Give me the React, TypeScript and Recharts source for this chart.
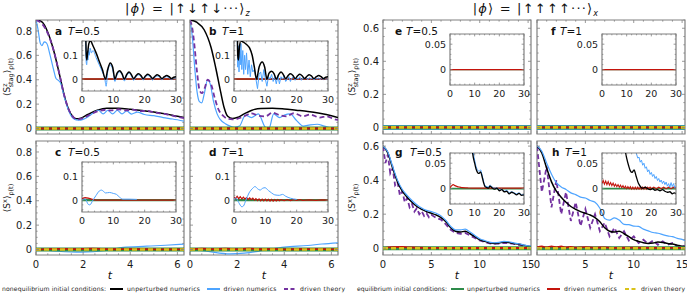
import React from 'react';
import { LineChart, Line, XAxis, YAxis, ReferenceArea } from 'recharts';

type Pt = [number, number];

const FONT = "'DejaVu Sans', 'Liberation Sans', sans-serif";
const C_BLACK = '#000000';
const C_BLUE = '#4ea4ff';
const C_PURPLE = '#7432a0';
const C_GREEN = '#2e8b4a';
const C_RED = '#c4140c';
const C_YELLOW = '#d9c21a';
const FRAME = '#808080';
const TXT = '#1a1a1a';

// ---- tick labels ----
const tLeftMajor = [0, 2, 4, 6];
const tRightMajor = [0, 5, 10, 15];
const tInsetMajor = [0, 10, 20, 30];
const yLeftMajor = [0, 0.2, 0.4, 0.6, 0.8];
const yRightMajor = [0, 0.2, 0.4, 0.6];
const yInsetLeftMajor = [0, 0.1];
const yInsetRightMajor = [0, 0.05];

// ---- zero reference series ----
const zeroL: Pt[] = [[0, 0], [6.28, 0]];
const zeroR: Pt[] = [[0, 0], [15.3, 0]];
const zeroI: Pt[] = [[0, 0], [30, 0]];

// ---- panel a (T=0.5, staggered magnetisation) ----
const aBlack: Pt[] = [[0,0.89],[0.25,0.875],[0.5,0.79],[0.75,0.64],[1.0,0.44],[1.2,0.27],[1.4,0.15],[1.55,0.1],[1.7,0.08],[1.9,0.085],[2.2,0.115],[2.6,0.15],[3.0,0.167],[3.5,0.166],[4.0,0.158],[4.5,0.148],[5.0,0.135],[5.5,0.12],[6.0,0.1],[6.28,0.09]];
const aBlue: Pt[] = [[0,0.89],[0.08,0.82],[0.18,0.7],[0.25,0.68],[0.35,0.71],[0.45,0.7],[0.6,0.6],[0.75,0.48],[0.85,0.41],[0.95,0.395],[1.05,0.37],[1.2,0.26],[1.4,0.14],[1.6,0.08],[1.8,0.068],[2.0,0.075],[2.2,0.095],[2.45,0.13],[2.65,0.15],[2.85,0.12],[3.05,0.15],[3.25,0.12],[3.45,0.15],[3.65,0.12],[3.85,0.145],[4.05,0.118],[4.3,0.135],[4.6,0.115],[5.0,0.105],[5.4,0.09],[5.8,0.078],[6.28,0.06]];
const aPurple: Pt[] = [[0,0.89],[0.25,0.86],[0.5,0.78],[0.75,0.64],[1.0,0.44],[1.2,0.27],[1.4,0.15],[1.6,0.09],[1.75,0.075],[2.0,0.085],[2.3,0.115],[2.6,0.14],[2.9,0.152],[3.2,0.148],[3.5,0.158],[3.8,0.148],[4.1,0.155],[4.4,0.142],[4.7,0.145],[5.0,0.132],[5.4,0.122],[5.8,0.105],[6.28,0.085]];

// ---- panel b (T=1) ----
const bBlack: Pt[] = [[0,0.89],[0.3,0.87],[0.6,0.81],[0.9,0.66],[1.1,0.49],[1.3,0.3],[1.45,0.17],[1.6,0.1],[1.8,0.082],[2.0,0.09],[2.3,0.12],[2.6,0.148],[3.0,0.165],[3.5,0.166],[4.0,0.16],[4.5,0.15],[5.0,0.14],[5.5,0.125],[6.0,0.105],[6.28,0.09]];
const bBlue: Pt[] = [[0,0.89],[0.1,0.75],[0.2,0.5],[0.3,0.3],[0.4,0.22],[0.5,0.21],[0.6,0.28],[0.75,0.4],[0.85,0.37],[1.0,0.22],[1.15,0.12],[1.3,0.07],[1.5,0.04],[1.7,0.02],[1.9,0.01],[2.1,0.02],[2.35,0.11],[2.6,0.09],[2.9,0.12],[3.2,0.01],[3.35,0.0],[3.55,0.12],[3.8,0.09],[4.0,0.11],[4.25,0.12],[4.5,0.07],[4.8,0.02],[5.1,0.03],[5.4,0.035],[5.7,0.02],[6.0,0.005],[6.28,-0.005]];
const bPurple: Pt[] = [[0,0.89],[0.1,0.82],[0.2,0.66],[0.3,0.46],[0.4,0.32],[0.5,0.29],[0.62,0.33],[0.75,0.4],[0.9,0.36],[1.05,0.25],[1.2,0.16],[1.4,0.105],[1.6,0.08],[1.8,0.075],[2.0,0.08],[2.3,0.1],[2.6,0.125],[2.9,0.105],[3.2,0.1],[3.5,0.13],[3.8,0.11],[4.1,0.1],[4.4,0.125],[4.8,0.1],[5.1,0.115],[5.5,0.09],[5.8,0.1],[6.1,0.078],[6.28,0.07]];

// ---- panels c, d (S^x, Neel state) ----
const cBlue: Pt[] = [[0,0],[0.9,-0.014],[1.9,-0.022],[3.0,-0.008],[3.7,0.018],[4.7,0.027],[5.5,0.035],[6.28,0.044]];
const cRed: Pt[] = [[0,0],[0.8,0.006],[1.6,0.004],[2.4,0.007],[3.2,0.002],[4,0.003],[5,0.001],[6.28,0.001]];
const dBlue: Pt[] = [[0,0],[0.7,-0.014],[1.7,-0.035],[2.3,-0.03],[3.1,-0.008],[4.0,0.02],[5.0,0.033],[5.6,0.045],[6.28,0.055]];
const dRed: Pt[] = [[0,0],[0.5,0.007],[1.0,0.002],[1.5,0.008],[2.0,0.003],[2.5,0.008],[3.0,0.002],[3.5,0.005],[4.0,0.001],[5.0,0.003],[6.28,0.001]];

// ---- panels g, h (S^x, x-polarised state) ----
const xBlack: Pt[] = [[0,0.6],[0.5,0.56],[1,0.47],[1.5,0.39],[2,0.335],[2.5,0.3],[3,0.27],[3.5,0.245],[4,0.228],[4.5,0.215],[5,0.205],[5.5,0.195],[6,0.18],[6.5,0.155],[7,0.12],[7.5,0.1],[8,0.095],[8.5,0.1],[9,0.085],[9.5,0.068],[10,0.05],[10.5,0.04],[11,0.032],[11.5,0.028],[12,0.03],[12.5,0.036],[13,0.034],[13.5,0.028],[14,0.024],[14.5,0.018],[15,0.012],[15.3,0.01]];
const gBlue: Pt[] = [[0,0.6],[0.5,0.565],[1,0.48],[1.5,0.4],[2,0.345],[2.5,0.31],[3,0.28],[3.5,0.255],[4,0.236],[4.5,0.222],[5,0.215],[5.5,0.205],[6,0.19],[6.5,0.163],[7,0.128],[7.5,0.108],[8,0.108],[8.5,0.112],[9,0.095],[9.5,0.075],[10,0.056],[10.5,0.045],[11,0.036],[11.5,0.032],[12,0.034],[12.5,0.04],[13,0.038],[13.5,0.031],[14,0.026],[14.5,0.02],[15,0.014],[15.3,0.012]];
const gPurple: Pt[] = [[0,0.6],[0.25,0.5],[0.5,0.55],[0.75,0.44],[1,0.47],[1.25,0.37],[1.5,0.39],[1.75,0.31],[2,0.335],[2.25,0.27],[2.5,0.295],[2.75,0.24],[3,0.26],[3.25,0.215],[3.5,0.235],[3.75,0.2],[4,0.218],[4.25,0.19],[4.5,0.205],[4.75,0.182],[5,0.196],[5.5,0.178],[6,0.168],[6.5,0.14],[7,0.108],[7.5,0.09],[8,0.085],[8.5,0.09],[9,0.075],[9.5,0.06],[10,0.045],[10.5,0.036],[11,0.028],[11.5,0.025],[12,0.027],[12.5,0.032],[13,0.03],[13.5,0.025],[14,0.02],[14.5,0.015],[15,0.01],[15.3,0.008]];
const gRed: Pt[] = [[0,0],[1,0.006],[2,0.007],[3,0.004],[5,0.002],[8,0.001],[15.3,0.001]];
const hBlue: Pt[] = [[0,0.6],[0.5,0.57],[1,0.5],[1.5,0.435],[2,0.385],[2.5,0.36],[3,0.345],[3.5,0.325],[4,0.315],[4.5,0.3],[5,0.295],[5.5,0.28],[6,0.27],[6.5,0.235],[7,0.175],[7.5,0.165],[8,0.178],[8.5,0.165],[9,0.14],[9.5,0.138],[10,0.13],[10.5,0.128],[11,0.112],[11.5,0.102],[12,0.092],[12.5,0.088],[13,0.08],[13.5,0.072],[14,0.068],[14.5,0.058],[15,0.052],[15.3,0.046]];
const hPurple: Pt[] = [[0,0.6],[0.5,0.33],[1.0,0.48],[1.5,0.24],[2.0,0.4],[2.5,0.2],[3.0,0.33],[3.5,0.16],[4.0,0.27],[4.5,0.13],[5.0,0.23],[5.5,0.12],[6.0,0.2],[6.5,0.1],[7.0,0.15],[7.5,0.07],[8.0,0.12],[8.5,0.06],[9.0,0.1],[9.5,0.045],[10.0,0.07],[10.5,0.03],[11.0,0.05],[11.5,0.025],[12.0,0.045],[12.5,0.02],[13.0,0.04],[13.5,0.02],[14.0,0.03],[14.5,0.01],[15.0,0.015],[15.3,0.01]];
const hRed: Pt[] = [[0,0.005],[0.5,0.01],[1,0.004],[1.5,0.011],[2,0.005],[2.5,0.01],[3,0.004],[3.5,0.008],[4,0.003],[5,0.006],[6,0.003],[7,0.005],[8,0.002],[10,0.003],[12,0.002],[15.3,0.002]];

// ---- insets ----
const aInBlack: Pt[] = [[0,0.89],[0.5,0.75],[1.0,0.35],[1.3,0.12],[1.5,0.08],[1.8,0.11],[2.2,0.15],[2.7,0.16],[3.5,0.14],[4.5,0.11],[5.5,0.075],[6.5,0.04],[7.5,0.0],[8.2,0.04],[9.0,0.068],[9.8,0.05],[10.5,0.0],[11.2,0.025],[12.0,0.035],[12.8,0.022],[13.5,0.0],[14.3,0.02],[15.0,0.03],[15.7,0.02],[16.5,0.002],[17.3,0.015],[18,0.022],[18.8,0.015],[19.5,0.002],[20.3,0.014],[21,0.02],[21.8,0.013],[22.5,0.002],[23.3,0.012],[24,0.018],[24.8,0.012],[25.5,0.002],[26.3,0.01],[27,0.015],[27.8,0.01],[28.5,0.002],[29.3,0.008],[30,0.01]];
const aInBlue: Pt[] = [[0,0.89],[0.5,0.7],[1.0,0.3],[1.3,0.08],[1.5,0.06],[1.7,0.1],[1.9,0.08],[2.1,0.12],[2.3,0.1],[2.6,0.13],[3.0,0.11],[3.5,0.12],[4.5,0.09],[5.5,0.06],[6.5,0.03],[7.3,0.0],[7.7,-0.03],[8.2,0.03],[9.0,0.06],[9.8,0.04],[10.5,-0.01],[11.2,0.018],[12,0.03],[12.8,0.018],[13.5,-0.008],[14.3,0.015],[15,0.025],[15.7,0.015],[16.5,-0.005],[17.3,0.01],[18,0.018],[18.8,0.01],[19.5,-0.004],[20.3,0.01],[21,0.015],[21.8,0.008],[22.5,-0.004],[23.3,0.008],[24,0.013],[24.8,0.008],[25.5,-0.003],[26.3,0.006],[27,0.01],[27.8,0.006],[28.5,-0.002],[29.3,0.004],[30,0.005]];
const bInBlack: Pt[] = [[0,0.89],[0.6,0.7],[1.0,0.3],[1.2,0.1],[1.4,0.08],[1.7,0.13],[2.2,0.16],[3,0.155],[4,0.145],[5,0.13],[5.8,0.1],[6.5,0.05],[7.2,0.0],[8.0,0.05],[9.0,0.072],[9.8,0.05],[10.5,0.0],[11.2,0.025],[12,0.033],[12.8,0.022],[13.5,0.0],[14.3,0.02],[15.0,0.03],[15.7,0.02],[16.5,0.002],[17.3,0.015],[18,0.022],[18.8,0.015],[19.5,0.002],[20.3,0.014],[21,0.02],[21.8,0.013],[22.5,0.002],[23.3,0.012],[24,0.018],[24.8,0.012],[25.5,0.002],[26.3,0.01],[27,0.015],[27.8,0.01],[28.5,0.002],[29.3,0.008],[30,0.01]];
const bInBlue: Pt[] = [[0,0.89],[0.6,0.6],[1.0,0.2],[1.2,0.05],[1.4,0.14],[1.6,0.03],[1.8,0.12],[2.0,0.06],[2.2,0.15],[2.5,0.04],[2.8,0.12],[3.1,0.02],[3.4,0.1],[3.7,0.04],[4.0,0.11],[4.4,0.02],[4.8,0.08],[5.2,0.01],[5.6,0.06],[6.0,0.03],[6.5,0.04],[7.0,0.0],[7.5,-0.04],[8.0,0.02],[8.5,0.03],[9.0,-0.01],[9.5,0.04],[10.0,0.0],[10.5,-0.03],[11,0.01],[11.5,0.0],[12,0.02],[12.5,-0.01],[13,0.01],[13.5,-0.02],[14,0.015],[14.5,-0.02],[15,0.01],[15.5,0.0],[16,0.015],[16.5,-0.01],[17,0.0],[17.5,0.01],[18,-0.01],[18.5,0.005],[19,0.01],[19.5,-0.005],[20,0.005],[20.5,0.0],[21,0.01],[21.5,-0.005],[22,0.005],[22.5,0.0],[23,0.008],[23.5,-0.003],[24,0.006],[24.5,0.0],[25,0.006],[25.5,-0.004],[26,0.004],[26.5,0.0],[27,0.005],[27.5,-0.003],[28,0.004],[28.5,-0.002],[29,0.003],[29.5,-0.002],[30,0.002]];
const cInBlue: Pt[] = [[0,0],[1,0.005],[2,-0.018],[2.5,-0.02],[3.5,0.0],[4.5,0.02],[5.5,0.038],[6.2,0.042],[7,0.035],[7.5,0.03],[8.8,0.032],[10,0.028],[11,0.024],[12,0.012],[13,0.004],[15,0.004],[17.5,0.003]];
const cInRed: Pt[] = [[0,0.006],[1,0.01],[2,0.008],[3,0.004],[4,0.001],[5,0.0],[30,0]];
const dInBlue: Pt[] = [[0,0],[0.6,0.01],[1.5,-0.01],[2.5,-0.028],[3.0,-0.025],[3.8,0.0],[4.8,0.03],[6.0,0.05],[6.7,0.057],[7.5,0.048],[8.3,0.042],[9.2,0.05],[9.9,0.052],[11,0.04],[12,0.03],[13,0.022],[14.5,0.02],[15.5,0.024],[16.5,0.016],[18,0.008],[20,0.003]];
const dInRed: Pt[] = [[0,0.012],[0.5,0.006],[1,0.016],[1.5,0.006],[2,0.014],[2.5,0.005],[3,0.012],[3.5,0.004],[4,0.01],[4.5,0.003],[5,0.009],[5.5,0.002],[6,0.008],[6.5,0.0],[7,0.006],[7.5,-0.002],[8,0.005],[8.5,-0.003],[9,0.004],[9.5,-0.003],[10,0.004],[10.5,-0.003],[11,0.003],[11.5,-0.004],[12,0.003],[12.5,-0.004],[13,0.002],[13.5,-0.004],[14,0.002],[14.5,-0.003],[15,0.002],[16,-0.002],[17,0.002],[18,-0.002],[19,0.002],[20,-0.001],[21,0.002],[22,-0.001],[24,0.001],[26,-0.001],[28,0.001],[30,0]];
const gInBlack: Pt[] = [[0,0.6],[3,0.27],[6,0.18],[7,0.12],[8,0.095],[8.5,0.09],[9,0.075],[9.5,0.06],[10,0.05],[10.6,0.038],[11.3,0.031],[11.8,0.03],[12.4,0.033],[13,0.024],[13.6,0.012],[14.2,0.004],[15,0.002],[15.6,0.001],[16.2,0.005],[17,0.002],[18,-0.001],[19,0.001],[20,-0.004],[21,-0.002],[22,-0.006],[23,-0.005],[24,-0.01],[25,-0.007],[26,-0.009],[27,-0.012],[28,-0.009],[29,-0.013],[30,-0.012]];
const gInBlue: Pt[] = [[0,0.6],[3,0.28],[6,0.19],[7,0.128],[8,0.108],[8.5,0.1],[9,0.085],[9.5,0.068],[10,0.056],[10.6,0.043],[11.3,0.036],[11.8,0.034],[12.4,0.037],[13,0.027],[13.6,0.015],[14.2,0.006],[15,0.004],[15.6,0.003],[16.2,0.007],[17,0.004],[18,0.001],[19,0.002],[20,-0.002],[21,-0.001],[22,-0.005],[23,-0.003],[24,-0.008],[25,-0.006],[26,-0.008],[27,-0.01],[28,-0.008],[29,-0.012],[30,-0.011]];
const gInRed: Pt[] = [[0,0.002],[0.7,0.006],[1.3,0.008],[2,0.006],[3,0.004],[4,0.003],[5,0.002],[7,0.0015],[10,0.001],[15,0.001],[20,0.001],[30,0.001]];
const hInBlack: Pt[] = [[0,0.6],[3,0.27],[6,0.18],[8,0.095],[9,0.085],[10,0.06],[10.8,0.045],[11.5,0.035],[12.2,0.032],[13,0.037],[13.8,0.025],[14.8,0.01],[15.8,0.003],[16.5,0.001],[17.5,0.003],[18.5,0.0],[19.5,-0.002],[20.5,0.0],[21.5,-0.003],[22.5,-0.002],[23.5,-0.004],[24.5,-0.002],[25.5,-0.005],[26.5,-0.007],[27.5,-0.006],[28.5,-0.01],[29.3,-0.008],[30,-0.01]];
const hInBlue: Pt[] = [[0,0.6],[5,0.29],[8,0.175],[10,0.13],[12,0.09],[13,0.08],[14,0.068],[14.5,0.06],[15,0.062],[15.5,0.052],[16,0.056],[16.5,0.046],[17,0.05],[17.5,0.04],[18,0.043],[18.5,0.033],[19,0.037],[19.5,0.028],[20,0.032],[20.5,0.024],[21,0.028],[21.5,0.02],[22,0.024],[22.5,0.016],[23,0.02],[23.5,0.013],[24,0.017],[24.5,0.01],[25,0.015],[25.5,0.008],[26,0.013],[26.5,0.005],[27,0.01],[27.5,0.003],[28,0.012],[28.5,0.004],[29,0.01],[29.5,0.002],[30,0.005]];
const hInRed: Pt[] = [[0,0.01],[0.5,0.016],[1,0.009],[1.5,0.015],[2,0.008],[2.5,0.014],[3,0.007],[3.5,0.012],[4,0.006],[4.5,0.011],[5,0.005],[5.5,0.009],[6,0.004],[6.5,0.008],[7,0.003],[7.5,0.007],[8,0.002],[8.5,0.006],[9,0.001],[9.5,0.005],[10,0.0],[10.5,0.004],[11,0.0],[11.5,0.004],[12,-0.001],[12.5,0.003],[13,-0.001],[13.5,0.003],[14,-0.001],[14.5,0.003],[15,-0.001],[15.5,0.003],[16,-0.001],[16.5,0.003],[17,-0.001],[17.5,0.003],[18,-0.001],[18.5,0.003],[19,0],[19.5,0.003],[20,0],[21,0.003],[22,0],[23,0.003],[24,0],[25,0.003],[26,0],[27,0.003],[28,0],[29,0.003],[30,0.001]];

// ---- text ----
const panelLetters = ['a', 'b', 'c', 'd', 'e', 'f', 'g', 'h'];
const panelPeriods = ['0.5', '1', '0.5', '1', '0.5', '1', '0.5', '1'];
const legendNoneq = ['unperturbed  numerics', 'driven  numerics', 'driven  theory'];
const legendEq = ['unperturbed  numerics', 'driven  numerics', 'driven  theory'];

type Series = { data: Pt[]; color: string; width: number; dash?: string; curve?: 'linear' | 'monotone' };

const S = (data: Pt[], color: string, width: number, dash?: string, curve?: 'linear' | 'monotone'): Series => ({ data, color, width, dash, curve });

const eqBand = (z: Pt[], red: Pt[] = z): Series[] => [
  S(z, C_GREEN, 4),
  S(red, C_RED, 1.8),
  S(z, C_YELLOW, 2.6, '5 3'),
];

function buildTicks(d: [number, number], step: number): number[] {
  const out: number[] = [];
  const start = Math.ceil(d[0] / step - 1e-9) * step;
  for (let v = start; v <= d[1] + 1e-9; v += step) out.push(Math.round(v * 1e6) / 1e6);
  return out;
}

const fmt = (v: number) => String(Math.round(v * 1e6) / 1e6);

type PanelProps = {
  x: number; y: number; w: number; h: number;
  xd: [number, number]; yd: [number, number];
  xMajor: number[]; xStep: number; yMajor: number[]; yStep: number;
  series: Series[]; fs: number; L: number; B: number; len: number;
  showX?: boolean; showY?: boolean;
};

function Panel(p: PanelProps) {
  const { x, y, w, h, xd, yd, xMajor, xStep, yMajor, yStep, series, fs, L, B, len } = p;
  const showX = p.showX !== false;
  const showY = p.showY !== false;
  const T = 4, R = 8;
  const isMaj = (arr: number[], v: number) => arr.some((m) => Math.abs(m - v) < 1e-6);
  const xTick = (tp: any) => {
    const v = tp.payload.value;
    const maj = isMaj(xMajor, v);
    const l = maj ? len : len * 0.55;
    return (
      <g>
        <line x1={tp.x} x2={tp.x} y1={tp.y} y2={tp.y - l} stroke={FRAME} strokeWidth={0.8} />
        <line x1={tp.x} x2={tp.x} y1={tp.y - h} y2={tp.y - h + l} stroke={FRAME} strokeWidth={0.8} />
        {maj && showX && (
          <text x={tp.x} y={tp.y + fs + 2.5} textAnchor="middle" fontSize={fs} fontFamily={FONT} fill={TXT}>
            {fmt(v)}
          </text>
        )}
      </g>
    );
  };
  const yTick = (tp: any) => {
    const v = tp.payload.value;
    const maj = isMaj(yMajor, v);
    const l = maj ? len : len * 0.55;
    return (
      <g>
        <line x1={tp.x} x2={tp.x + l} y1={tp.y} y2={tp.y} stroke={FRAME} strokeWidth={0.8} />
        <line x1={tp.x + w} x2={tp.x + w - l} y1={tp.y} y2={tp.y} stroke={FRAME} strokeWidth={0.8} />
        {maj && showY && (
          <text x={tp.x - 4} y={tp.y + fs * 0.36} textAnchor="end" fontSize={fs} fontFamily={FONT} fill={TXT}>
            {fmt(v)}
          </text>
        )}
      </g>
    );
  };
  return (
    <div style={{ position: 'absolute', left: x - L, top: y - T }}>
      <LineChart width={w + L + R} height={h + T + B} margin={{ top: T, right: R, bottom: 0, left: 0 }}>
        <XAxis dataKey="t" type="number" domain={xd} allowDataOverflow ticks={buildTicks(xd, xStep)} interval={0}
          tick={xTick} tickLine={false} axisLine={false} tickSize={0} tickMargin={0} height={B} />
        <YAxis type="number" domain={yd} allowDataOverflow ticks={buildTicks(yd, yStep)} interval={0}
          tick={yTick} tickLine={false} axisLine={false} tickSize={0} tickMargin={0} width={L} />
        <ReferenceArea x1={xd[0]} x2={xd[1]} y1={yd[0]} y2={yd[1]} fill="none" fillOpacity={0}
          stroke={FRAME} strokeWidth={1.2} ifOverflow="visible" />
        {series.map((s, i) => (
          <Line key={i} data={s.data.map(([t, v]) => ({ t, v }))} dataKey="v" type={s.curve ?? 'monotone'}
            stroke={s.color} strokeWidth={s.width} strokeDasharray={s.dash} dot={false} activeDot={false}
            isAnimationActive={false} />
        ))}
      </LineChart>
    </div>
  );
}

const LD: [number, number] = [0, 6.28];
const RD: [number, number] = [0, 15.3];
const ID: [number, number] = [0, 30];
const YL: [number, number] = [-0.045, 0.89];
const YR1: [number, number] = [-0.04, 0.65];
const YR2: [number, number] = [-0.04, 0.63];
const YIL: [number, number] = [-0.05, 0.16];
const YIR: [number, number] = [-0.03, 0.07];

const mainL = { w: 148, h: 114, xd: LD, yd: YL, xMajor: tLeftMajor, xStep: 0.5, yMajor: yLeftMajor, yStep: 0.05, fs: 10, L: 32, B: 18, len: 3 };
const mainR1 = { w: 148, h: 114, xd: RD, yd: YR1, xMajor: tRightMajor, xStep: 1, yMajor: yRightMajor, yStep: 0.05, fs: 10, L: 32, B: 18, len: 3 };
const mainR2 = { ...mainR1, yd: YR2 };
const insL = { w: 94, h: 50, xd: ID, yd: YIL, xMajor: tInsetMajor, xStep: 2, yMajor: yInsetLeftMajor, yStep: 0.02, fs: 9.5, L: 28, B: 16, len: 2.4 };
const insR = { w: 74, h: 51, xd: ID, yd: YIR, xMajor: tInsetMajor, xStep: 2, yMajor: yInsetRightMajor, yStep: 0.01, fs: 9.5, L: 34, B: 16, len: 2.4 };

function YLabel({ x, y, kind }: { x: number; y: number; kind: 'z' | 'x' }) {
  return (
    <text transform={`rotate(-90 ${x} ${y})`} x={x} y={y} textAnchor="middle" fontSize={9} fontFamily={FONT} fill={TXT}>
      ⟨S
      {kind === 'z' ? (
        <>
          <tspan fontSize={6.5} dy={-3.5}>z</tspan>
          <tspan fontSize={6.5} dx={-4} dy={6.5}>stag</tspan>
          <tspan dy={-3}>⟩</tspan>
        </>
      ) : (
        <>
          <tspan fontSize={6.5} dy={-3.5}>x</tspan>
          <tspan dy={3.5}>⟩</tspan>
        </>
      )}
      <tspan fontSize={6.5} dy={2.8}>ρ(t)</tspan>
    </text>
  );
}

export default function App() {
  const panelPos = [
    [36, 20], [190, 20], [36, 141], [190, 141], [383, 20], [537, 20], [383, 141], [537, 141],
  ];
  const letterOff = [[19, 32], [19, 32], [19, 32], [19, 32], [12, 23], [14, 23], [12, 27], [15, 28]];
  const legendY = 289;
  const lt = { fontFamily: FONT, fontSize: 6.1, fill: '#222222', lengthAdjust: 'spacing' as const };
  return (
    <div style={{ position: 'absolute', left: 0, top: 0, width: 687, height: 296, background: '#fff', overflow: 'hidden' }}>
      {/* main panels */}
      <Panel x={36} y={20} {...mainL} showX={false} series={[S(aBlack, C_BLACK, 1.5), S(aBlue, C_BLUE, 1.2), S(aPurple, C_PURPLE, 1.8, '5 3'), ...eqBand(zeroL)]} />
      <Panel x={190} y={20} {...mainL} showX={false} showY={false} series={[S(bBlack, C_BLACK, 1.5), S(bBlue, C_BLUE, 1.2), S(bPurple, C_PURPLE, 1.8, '5 3'), ...eqBand(zeroL)]} />
      <Panel x={36} y={141} {...mainL} series={[S(zeroL, C_BLACK, 1.5), S(zeroL, C_PURPLE, 1.8, '5 3'), S(cBlue, C_BLUE, 1.2), ...eqBand(zeroL, cRed)]} />
      <Panel x={190} y={141} {...mainL} showY={false} series={[S(zeroL, C_BLACK, 1.5), S(zeroL, C_PURPLE, 1.8, '5 3'), S(dBlue, C_BLUE, 1.2), ...eqBand(zeroL, dRed)]} />
      <Panel x={383} y={20} {...mainR1} showX={false} series={[S(zeroR, C_BLUE, 5), S(zeroR, C_BLACK, 1.5), S(zeroR, C_PURPLE, 1.8, '5 3'), ...eqBand(zeroR)]} />
      <Panel x={537} y={20} {...mainR1} showX={false} showY={false} series={[S(zeroR, C_BLUE, 5), S(zeroR, C_BLACK, 1.5), S(zeroR, C_PURPLE, 1.8, '5 3'), ...eqBand(zeroR)]} />
      <Panel x={383} y={141} {...mainR2} series={[S(gPurple, C_PURPLE, 1.8, '5 3', 'linear'), S(xBlack, C_BLACK, 1.5), S(gBlue, C_BLUE, 1.2), ...eqBand(zeroR, gRed)]} />
      <Panel x={537} y={141} {...mainR2} showY={false} series={[S(hPurple, C_PURPLE, 1.8, '5 3', 'linear'), S(xBlack, C_BLACK, 1.5), S(hBlue, C_BLUE, 1.2), ...eqBand(zeroR, hRed)]} />

      {/* insets */}
      <Panel x={82} y={41} {...insL} series={[S(zeroI, C_GREEN, 1.6), S(zeroI, C_RED, 1.5), S(aInBlue, C_BLUE, 1), S(aInBlack, C_BLACK, 1.5)]} />
      <Panel x={234} y={41} {...insL} series={[S(zeroI, C_GREEN, 1.6), S(zeroI, C_RED, 1.5), S(bInBlue, C_BLUE, 1, undefined, 'linear'), S(bInBlack, C_BLACK, 1.5)]} />
      <Panel x={82} y={162} {...insL} series={[S(zeroI, C_GREEN, 2.4), S(cInRed, C_RED, 1.4), S(cInBlue, C_BLUE, 1)]} />
      <Panel x={234} y={162} {...insL} series={[S(zeroI, C_GREEN, 2.4), S(dInRed, C_RED, 1.2, undefined, 'linear'), S(dInBlue, C_BLUE, 1)]} />
      <Panel x={450} y={34} {...insR} series={[S(zeroI, C_GREEN, 1.2), S(zeroI, C_RED, 1.3)]} />
      <Panel x={602} y={34} {...insR} series={[S(zeroI, C_GREEN, 1.2), S(zeroI, C_RED, 1.3)]} />
      <Panel x={450} y={153} {...insR} series={[S(zeroI, C_GREEN, 1.8), S(gInRed, C_RED, 1.2), S(gInBlue, C_BLUE, 1), S(gInBlack, C_BLACK, 1.3)]} />
      <Panel x={602} y={153} {...insR} series={[S(zeroI, C_GREEN, 1.8), S(hInRed, C_RED, 1.1, undefined, 'linear'), S(hInBlue, C_BLUE, 1, undefined, 'linear'), S(hInBlack, C_BLACK, 1.3)]} />

      {/* text overlay */}
      <svg width={687} height={296} style={{ position: 'absolute', left: 0, top: 0, pointerEvents: 'none' }}>
        <text x={188} y={13} textAnchor="middle" fontSize={13} fontFamily={FONT} fill="#111" letterSpacing={1.2}>
          |<tspan fontStyle="italic">ϕ</tspan>⟩ = |↑↓↑↓···⟩<tspan fontSize={8} fontStyle="italic" dy={3}>z</tspan>
        </text>
        <text x={536} y={13} textAnchor="middle" fontSize={13} fontFamily={FONT} fill="#111" letterSpacing={1.2}>
          |<tspan fontStyle="italic">ϕ</tspan>⟩ = |↑↑↑↑···⟩<tspan fontSize={8} fontStyle="italic" dy={3}>x</tspan>
        </text>

        <YLabel x={10} y={77} kind="z" />
        <YLabel x={10} y={198} kind="x" />
        <YLabel x={355} y={77} kind="z" />
        <YLabel x={355} y={198} kind="x" />

        {panelPos.map(([px, py], i) => (
          <g key={i}>
            <text x={px + letterOff[i][0]} y={py + 15} fontSize={10.5} fontWeight="bold" fontFamily={FONT} fill="#111">{panelLetters[i]}</text>
            <text x={px + letterOff[i][1]} y={py + 15} fontSize={10.5} fontFamily={FONT} fill="#111">
              <tspan fontStyle="italic">T</tspan>={panelPeriods[i]}
            </text>
          </g>
        ))}

        {[110, 264, 457, 611].map((cx, i) => (
          <text key={i} x={cx} y={279} textAnchor="middle" fontSize={11} fontStyle="italic" fontFamily={FONT} fill="#111">t</text>
        ))}

        {/* legend */}
        <text x={2} y={legendY + 2.2} textLength={104} {...lt}>nonequilibrium initial conditions:</text>
        <line x1={110} x2={123} y1={legendY} y2={legendY} stroke={C_BLACK} strokeWidth={2} />
        <text x={127} y={legendY + 2.2} textLength={73} {...lt}>{legendNoneq[0]}</text>
        <line x1={207} x2={220} y1={legendY} y2={legendY} stroke={C_BLUE} strokeWidth={2} />
        <text x={223.5} y={legendY + 2.2} textLength={53} {...lt}>{legendNoneq[1]}</text>
        <line x1={284} x2={297} y1={legendY} y2={legendY} stroke={C_PURPLE} strokeWidth={2} strokeDasharray="4 2.5" />
        <text x={300} y={legendY + 2.2} textLength={45} {...lt}>{legendNoneq[2]}</text>

        <text x={357} y={legendY + 2.2} textLength={90} {...lt}>equilibrium initial conditions:</text>
        <line x1={451} x2={464} y1={legendY} y2={legendY} stroke={C_GREEN} strokeWidth={2} />
        <text x={467} y={legendY + 2.2} textLength={73} {...lt}>{legendEq[0]}</text>
        <line x1={547} x2={560} y1={legendY} y2={legendY} stroke={C_RED} strokeWidth={2} />
        <text x={564} y={legendY + 2.2} textLength={53} {...lt}>{legendEq[1]}</text>
        <line x1={625} x2={638} y1={legendY} y2={legendY} stroke={C_YELLOW} strokeWidth={2} strokeDasharray="4 2.5" />
        <text x={641} y={legendY + 2.2} textLength={44} {...lt}>{legendEq[2]}</text>
      </svg>
    </div>
  );
}
